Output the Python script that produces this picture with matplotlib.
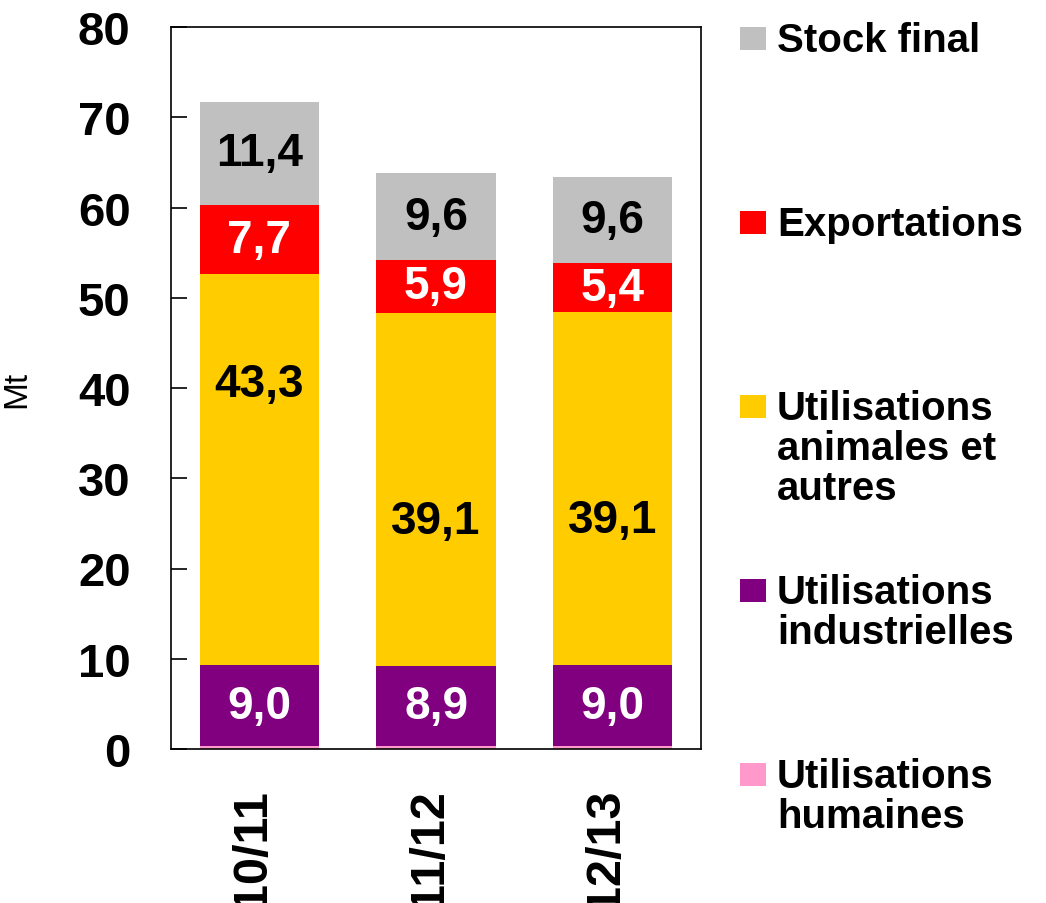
import matplotlib
matplotlib.use("Agg")
import matplotlib.pyplot as plt
from matplotlib.patches import Rectangle
import matplotlib.transforms as mtransforms
import numpy as np

plt.rcParams['font.family'] = ['Liberation Sans', 'DejaVu Sans']

categories = ["10/11", "11/12", "12/13"]
series_names = ["Utilisations\nhumaines", "Utilisations\nindustrielles",
                "Utilisations\nanimales et\nautres", "Exportations", "Stock final"]
humaines = [0.3, 0.3, 0.3]
industrielles = [9.0, 8.9, 9.0]
animales = [43.3, 39.1, 39.1]
exportations = [7.7, 5.9, 5.4]
stock = [11.4, 9.6, 9.6]
yticks = [0, 10, 20, 30, 40, 50, 60, 70, 80]

series = [humaines, industrielles, animales, exportations, stock]
colors = ["#FF99CC", "#800080", "#FFCC00", "#FF0000", "#C0C0C0"]
label_colors = [None, "white", "black", "white", "black"]
# relative vertical placement of the label inside each segment
label_frac = [None, [0.5, 0.5, 0.5], [0.72, 0.41, 0.41], [0.5, 0.5, 0.5], [0.5, 0.5, 0.5]]

W, H = 1046, 904
fig = plt.figure(figsize=(W / 100, H / 100), dpi=100)
ax = fig.add_axes([171 / W, 1 - 750 / H, 530 / W, 722 / H])

x = np.arange(len(categories))
bottom = np.zeros(len(categories))
for s, vals in enumerate(series):
    vals = np.array(vals)
    ax.bar(x, vals, width=0.675, bottom=bottom, color=colors[s], edgecolor='none', zorder=2)
    if label_colors[s] is not None:
        for i, v in enumerate(vals):
            ax.text(x[i], bottom[i] + v * label_frac[s][i], f"{v:.1f}".replace('.', ','),
                    ha='center', va='center', color=label_colors[s],
                    fontsize=33, fontweight='bold', zorder=3)
    bottom = bottom + vals

ax.set_xlim(-0.5, 2.5)
ax.set_ylim(0, 80)
ax.set_yticks(yticks)
ax.set_yticklabels([str(t) for t in yticks], fontsize=34, fontweight='bold')
ax.set_xticks(x)
ax.set_xticklabels(categories, fontsize=35, fontweight='bold', rotation=90, va='top')
ax.tick_params(axis='y', direction='in', length=11.5, width=1.2, pad=29)
ax.tick_params(axis='x', length=0, pad=28)
offset = mtransforms.ScaledTranslation(-7 / 100, 0, fig.dpi_scale_trans)
for lab in ax.get_xticklabels():
    lab.set_transform(lab.get_transform() + offset)
for sp in ax.spines.values():
    sp.set_linewidth(1.2)
    sp.set_color('black')
ax.set_ylabel("Mt", fontsize=24)
ax.yaxis.set_label_coords(-0.262, 0.5)

# legend (top to bottom: reverse stacking order)
centers = [39.5, 223.5, 407.5, 591.5, 775.5]
line_step = 40
for k, s in enumerate(reversed(range(len(series)))):
    cy = centers[k]
    rect = Rectangle((740 / W, 1 - (cy + 11.5) / H), 26 / W, 23 / H,
                     transform=fig.transFigure, facecolor=colors[s], edgecolor='none')
    fig.patches.append(rect)
    for j, line in enumerate(series_names[s].split("\n")):
        fig.text(777 / W, 1 - (cy + 13 + j * line_step) / H, line, ha='left', va='baseline',
                 fontsize=29, fontweight='bold')

fig.savefig("out.png", dpi=100)
